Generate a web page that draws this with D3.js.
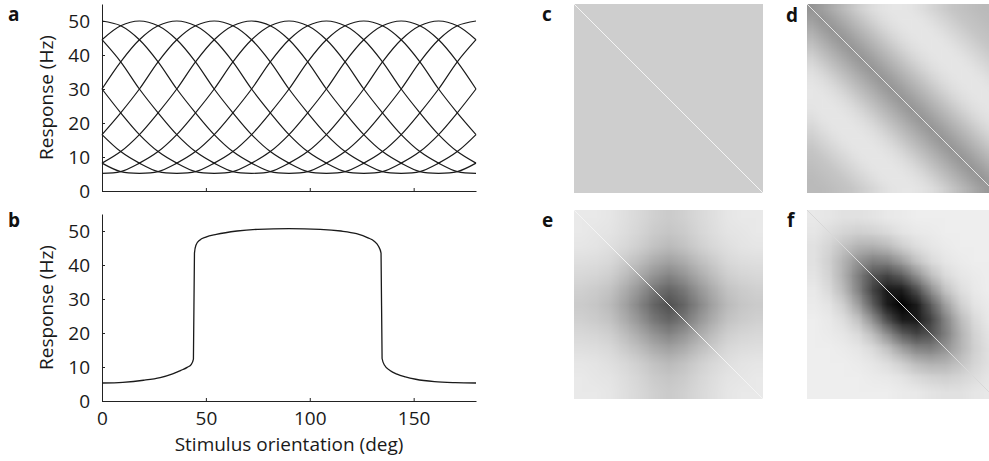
<!DOCTYPE html>
<html>
<head>
<meta charset="utf-8">
<script src="https://cdn.jsdelivr.net/npm/d3@7"></script>
<style>
   body { margin: 0; background: #fff; }
   svg { display: block; font-family: "Open Sans", sans-serif; }
</style>
</head>
<body>
<div id="chart"></div>
<script>
// panel a: one tuning curve shape (response vs distance from preferred orientation)
const tuningOffset = [0, 9, 18, 27, 36, 45, 54, 63, 72, 81, 90];
const tuningResp = [50, 48.6, 44.5, 38, 30, 23, 16.6, 11.6, 8.2, 5.7, 5.2];
const preferred = [0, 18, 36, 54, 72, 90, 108, 126, 144, 162];

// shared ticks
const orientTicks = [0, 50, 100, 150];
const respTicks = [0, 10, 20, 30, 40, 50];

// panel b: step-like response
const bOrient = [0, 10, 20, 28, 34, 38, 41, 43, 44, 44.5, 45.2, 47, 50, 55, 65, 75, 90,
   105, 115, 122.5, 128, 131, 133, 134.3, 134.8, 136, 138.6, 142, 146, 151, 160, 170, 180];
const bResp = [5.3, 5.5, 6.1, 6.9, 8.0, 9.0, 9.9, 10.8, 12.3, 43.5, 45.8, 47.3, 48.2, 49.0, 50.0, 50.5, 50.7,
   50.5, 50.0, 49.2, 48.0, 47.0, 45.6, 43.5, 12.5, 10.5, 9.0, 7.9, 7.1, 6.4, 5.7, 5.4, 5.3];

// panels c-f: covariance levels (0 = light, 100 = black)
const cLevel = 16;
const dLag = [0, 10, 20, 30, 40, 50, 60, 70, 80, 90, 100, 110, 120, 130, 140, 150, 160, 170, 180];
const dLevel = [39, 35, 30, 24.5, 19, 14, 10, 7.5, 6.3, 6, 7, 9.5, 12.5, 16, 19, 21, 22.5, 23.5, 24];
const eMatrix = [
   [5, 5, 6, 9, 12, 15, 17, 15, 12, 9, 6, 5, 5],
   [5, 6, 7, 10, 13, 17, 19, 17, 13, 10, 7, 6, 5],
   [6, 7, 9, 12, 16, 21, 24, 21, 16, 12, 9, 7, 6],
   [9, 10, 12, 17, 23, 30, 34, 30, 23, 17, 12, 10, 9],
   [12, 13, 16, 23, 31, 40, 46, 40, 31, 23, 16, 13, 12],
   [15, 17, 21, 30, 40, 52, 59, 52, 40, 30, 21, 17, 15],
   [17, 19, 24, 34, 46, 59, 67, 59, 46, 34, 24, 19, 17],
   [15, 17, 21, 30, 40, 52, 59, 52, 40, 30, 21, 17, 15],
   [12, 13, 16, 23, 31, 40, 46, 40, 31, 23, 16, 13, 12],
   [9, 10, 12, 17, 23, 30, 34, 30, 23, 17, 12, 10, 9],
   [6, 7, 9, 12, 16, 21, 24, 21, 16, 12, 9, 7, 6],
   [5, 6, 7, 10, 13, 17, 19, 17, 13, 10, 7, 6, 5],
   [5, 5, 6, 9, 12, 15, 17, 15, 12, 9, 6, 5, 5]
];
const fMatrix = [
   [5, 6, 8, 8, 7, 5, 4, 3, 3, 3, 3, 3, 3],
   [6, 10, 13, 15, 14, 11, 7, 5, 4, 3, 3, 3, 3],
   [8, 13, 21, 27, 28, 24, 16, 10, 6, 4, 3, 3, 3],
   [8, 15, 27, 40, 48, 46, 35, 21, 11, 6, 4, 3, 3],
   [7, 14, 28, 48, 66, 72, 62, 42, 23, 11, 6, 4, 3],
   [5, 11, 24, 46, 72, 90, 89, 69, 42, 21, 10, 5, 3],
   [4, 7, 16, 35, 62, 89, 100, 89, 62, 35, 16, 7, 4],
   [3, 5, 10, 21, 42, 69, 89, 90, 72, 46, 24, 11, 5],
   [3, 4, 6, 11, 23, 42, 62, 72, 66, 48, 28, 14, 7],
   [3, 3, 4, 6, 11, 21, 35, 46, 48, 40, 27, 15, 8],
   [3, 3, 3, 4, 6, 10, 16, 24, 28, 27, 21, 13, 8],
   [3, 3, 3, 3, 4, 5, 7, 11, 14, 15, 13, 10, 6],
   [3, 3, 3, 3, 3, 3, 4, 5, 7, 8, 8, 6, 5]
];

const width = 989;
const height = 461;
const heatSize = 189;
const fontPx = "19px";

const svg = d3.select("#chart")
   .append("svg")
   .attr("width", width)
   .attr("height", height);

const xScale = d3.scaleLinear().domain([0, 180]).range([102, 476]);
const yA = d3.scaleLinear().domain([0, 55]).range([191, 4]);
const yB = d3.scaleLinear().domain([0, 55]).range([401, 214]);

function styleAxis(g) {
   g.attr("font-size", null).attr("font-family", null);
   g.select(".domain").attr("stroke", "#222");
   g.selectAll(".tick line").attr("stroke", "#222");
   g.selectAll(".tick text").attr("fill", "#1a1a1a").style("font-size", fontPx);
}

function drawAxes(yScale, showLabels) {
   const gx = svg.append("g")
      .attr("transform", "translate(0," + yScale(0) + ")")
      .call(d3.axisBottom(xScale).tickValues(orientTicks)
         .tickSizeInner(-3).tickSizeOuter(0).tickPadding(11)
         .tickFormat(showLabels ? d3.format("d") : ""));
   styleAxis(gx);

   const gy = svg.append("g")
      .attr("transform", "translate(" + xScale(0) + ",0)")
      .call(d3.axisLeft(yScale).tickValues(respTicks)
         .tickSizeInner(-3).tickSizeOuter(0).tickPadding(12));
   styleAxis(gy);

   svg.append("text")
      .attr("transform", "translate(53," + (yScale(0) + yScale(55)) / 2 + ") rotate(-90)")
      .attr("text-anchor", "middle")
      .attr("fill", "#1a1a1a")
      .style("font-size", fontPx)
      .text("Response (Hz)");
}

// panel a
drawAxes(yA, false);

const curveLine = d3.line()
   .x((d) => xScale(d[0]))
   .y((d) => yA(d[1]))
   .curve(d3.curveCatmullRom.alpha(0.5));

const samplePos = d3.range(0, 181, 9);
preferred.forEach((p) => {
   const pts = samplePos.map((x) => {
      let off = Math.abs(x - p);
      off = Math.min(off, 180 - off);
      return [x, tuningResp[tuningOffset.indexOf(off)]];
   });
   svg.append("path")
      .datum(pts)
      .attr("d", curveLine)
      .attr("fill", "none")
      .attr("stroke", "#1a1a1a")
      .attr("stroke-width", 1.2);
});

// panel b
drawAxes(yB, true);

const bLine = d3.line()
   .x((d, i) => xScale(bOrient[i]))
   .y((d) => yB(d))
   .curve(d3.curveMonotoneX);

svg.append("path")
   .datum(bResp)
   .attr("d", bLine)
   .attr("fill", "none")
   .attr("stroke", "#1a1a1a")
   .attr("stroke-width", 1.3);

svg.append("text")
   .attr("x", (xScale(0) + xScale(180)) / 2)
   .attr("y", 451)
   .attr("text-anchor", "middle")
   .attr("fill", "#1a1a1a")
   .style("font-size", fontPx)
   .text("Stimulus orientation (deg)");

// heat maps
const gray = d3.scaleLinear().domain([0, 100]).range(["#f5f5f5", "#000000"]);

function heatMap(x0, y0, grid) {
   const n = grid.length;
   const cv = document.createElement("canvas");
   cv.width = n;
   cv.height = n;
   const ctx = cv.getContext("2d");
   grid.forEach((row, j) => row.forEach((v, i) => {
      ctx.fillStyle = gray(v);
      ctx.fillRect(i, j, 1, 1);
   }));
   svg.append("image")
      .attr("href", cv.toDataURL())
      .attr("x", x0)
      .attr("y", y0)
      .attr("width", heatSize)
      .attr("height", heatSize)
      .attr("preserveAspectRatio", "none");
}

function diagonal(x0, y0, color) {
   const hx = d3.scaleLinear().domain([0, 180]).range([x0, x0 + heatSize]);
   const hy = d3.scaleLinear().domain([0, 180]).range([y0, y0 + heatSize]);
   svg.append("line")
      .attr("x1", hx(0)).attr("y1", hy(0))
      .attr("x2", hx(180)).attr("y2", hy(180))
      .attr("stroke", color)
      .attr("stroke-width", 1);
}

// c: flat
svg.append("rect")
   .attr("x", 574).attr("y", 4)
   .attr("width", heatSize).attr("height", heatSize)
   .attr("fill", gray(cLevel));
diagonal(574, 4, "#f4f4f4");

// d: depends on lag only
const dGrid = dLag.map((a) => dLag.map((b) => dLevel[dLag.indexOf(Math.abs(a - b))]));
heatMap(807, 4, dGrid);
diagonal(807, 4, "#e6e6e6");

// e, f
heatMap(574, 210, eMatrix);
diagonal(574, 210, "#f4f4f4");
heatMap(807, 210, fMatrix);
diagonal(807, 210, "#d8d8d8");

// panel letters
const letters = [
   ["a", 8, 21], ["b", 8, 227],
   ["c", 542, 21], ["d", 786, 22],
   ["e", 542, 227], ["f", 787, 227]
];
svg.selectAll(".panel-label")
   .data(letters)
   .enter()
   .append("text")
   .attr("class", "panel-label")
   .attr("x", (d) => d[1])
   .attr("y", (d) => d[2])
   .attr("fill", "#111")
   .style("font-size", "19px")
   .style("font-weight", "700")
   .text((d) => d[0]);
</script>
</body>
</html>
